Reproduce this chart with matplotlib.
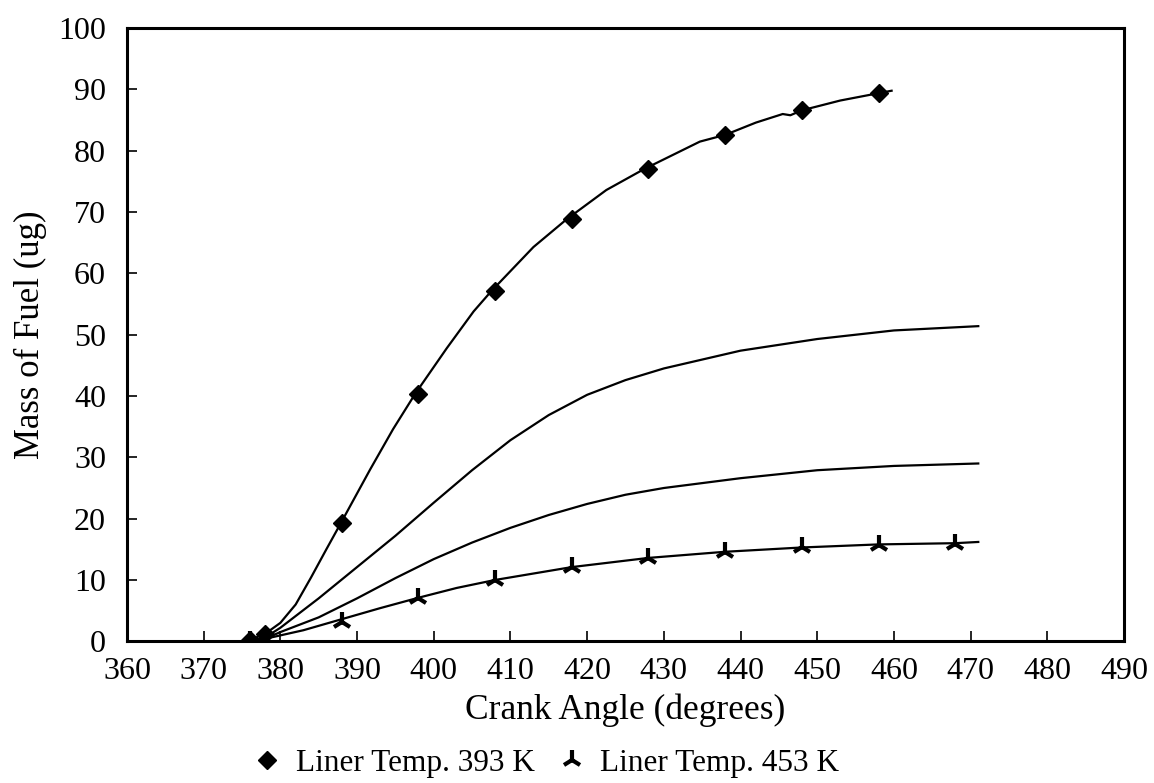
import matplotlib
matplotlib.use("Agg")
import matplotlib.pyplot as plt
from matplotlib.lines import Line2D

plt.rcParams['font.family'] = ['Liberation Serif', 'DejaVu Serif']

# measured points, liner temp 393 K (diamonds)
ang_393 = [376, 378, 388, 398, 408, 418, 428, 438, 448, 458]
fuel_393 = [0.2, 1.2, 19.3, 40.4, 57.1, 68.8, 77.0, 82.6, 86.6, 89.4]
# fitted curve drawn through them
curve_393_x = [376, 378, 380, 382, 384, 386, 387.9, 391.7, 394.7, 397.6, 401.7, 405.2,
               407.5, 413, 417.3, 422.5, 427.4, 434.7, 438, 442, 445.5, 446.5,
               448, 453, 458, 459.7]
curve_393_y = [0.2, 1.2, 3.0, 6.0, 10.4, 15.0, 19.3, 28.0, 34.6, 40.4, 47.8, 53.8,
               57.1, 64.3, 68.8, 73.6, 77.0, 81.5, 82.6, 84.6, 86.0, 85.8,
               86.6, 88.2, 89.4, 89.8]

# measured points, liner temp 453 K (tri markers)
ang_453 = [376, 378, 388, 398, 408, 418, 428, 438, 448, 458, 468]
fuel_453 = [0.0, 0.4, 3.2, 7.1, 10.0, 12.1, 13.6, 14.6, 15.3, 15.7, 15.8]
curve_453_x = [376, 378, 383, 388, 393, 398, 403, 408, 418, 428, 438, 448, 458, 468, 471]
curve_453_y = [0.0, 0.4, 1.8, 3.6, 5.4, 7.1, 8.7, 10.0, 12.1, 13.6, 14.6, 15.3, 15.8, 16.0, 16.2]

# intermediate curves (no markers)
mid_x = [376, 378, 380, 385, 390, 395, 400, 405, 410, 415, 420, 425, 430, 440, 450, 460, 471]
mid_hi = [0.0, 0.6, 2.2, 7.0, 12.1, 17.2, 22.6, 27.9, 32.8, 36.9, 40.2, 42.6, 44.5, 47.4, 49.3, 50.7, 51.4]
mid_lo = [0.0, 0.4, 1.5, 3.9, 7.0, 10.3, 13.4, 16.1, 18.5, 20.6, 22.4, 23.9, 25.0, 26.6, 27.9, 28.6, 29.0]

xticks = list(range(360, 491, 10))
yticks = list(range(0, 101, 10))

fig = plt.figure(figsize=(11.54, 7.83), dpi=100)
ax = fig.add_axes([0.110, 0.181, 0.864, 0.783])

lw = 1.6
ax.plot(curve_393_x, curve_393_y, color='black', lw=lw)
ax.plot(mid_x, mid_hi, color='black', lw=lw)
ax.plot(mid_x, mid_lo, color='black', lw=lw)
ax.plot(curve_453_x, curve_453_y, color='black', lw=lw)
ax.plot(ang_393, fuel_393, 'D', color='black', ms=9.5, zorder=3)
ax.plot(ang_453, fuel_453, '2', color='black', ms=15, mew=3, zorder=3)

ax.set_xlim(360, 490)
ax.set_ylim(0, 100)
ax.set_xticks(xticks)
ax.set_yticks(yticks)
ax.tick_params(direction='in', length=7, width=1.2, labelsize=23)
ax.tick_params(axis='x', pad=11)
ax.tick_params(axis='y', pad=15)
for s in ax.spines.values():
    s.set_linewidth(2.2)

ax.set_xlabel('Crank Angle (degrees)', fontsize=25.5, labelpad=6)
ax.set_ylabel('Mass of Fuel (ug)', fontsize=25, labelpad=8)

handles = [
    Line2D([], [], ls='none', marker='D', color='black', ms=9.5),
    Line2D([], [], ls='none', marker='2', color='black', ms=15, mew=3),
]
fig.legend(handles, ['Liner Temp. 393 K', 'Liner Temp. 453 K'],
           loc='lower center', bbox_to_anchor=(0.474, -0.03), ncol=2,
           frameon=False, fontsize=22.5, handlelength=0.8, handletextpad=0.5,
           columnspacing=0.8)

fig.savefig('out.png', dpi=100)
